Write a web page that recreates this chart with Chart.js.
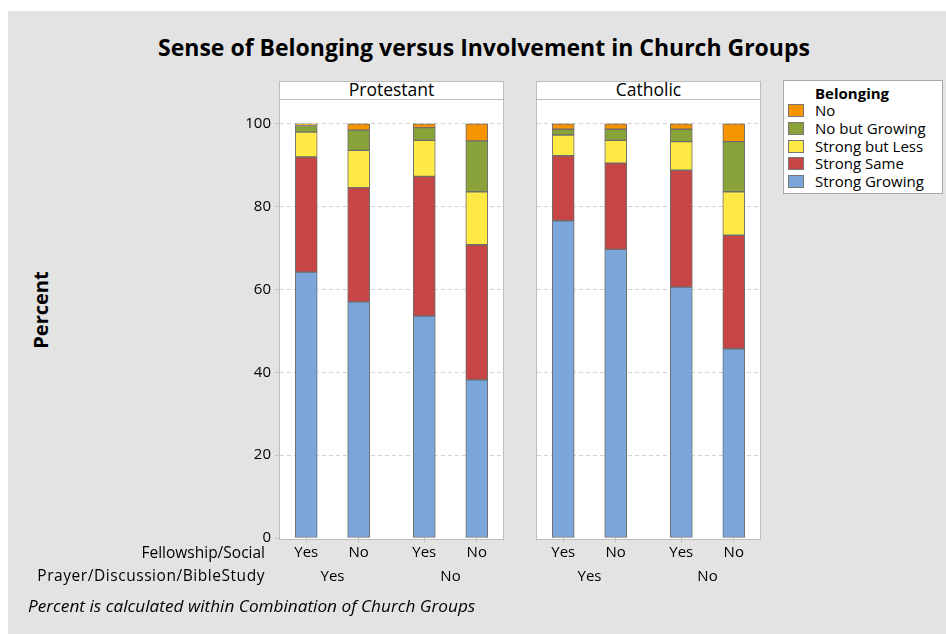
<!DOCTYPE html>
<html>
<head>
<meta charset="utf-8">
<script src="https://cdn.jsdelivr.net/npm/chart.js@4.4.1/dist/chart.umd.min.js"></script>
<style>
  body { margin: 0; background: #fff; font-family: 'Open Sans', sans-serif; color: #000; }
  #page { position: relative; width: 946px; height: 634px; overflow: hidden; }
  #bg { position: absolute; left: 8px; top: 11px; width: 938px; height: 623px; background: #e3e3e3; }
  .panel { position: absolute; top: 81px; height: 457px; background: #fff; border: 1px solid #bdbdbd; }
  .strip { position: absolute; left: 0; top: 0; right: 0; height: 17px; border-bottom: 1px solid #bdbdbd;
           text-align: center; font-size: 17.5px; line-height: 15px; }
  .cv { position: absolute; }
  #title { position: absolute; left: 0; width: 968px; top: 31px; text-align: center; font-size: 23px; font-weight: 700; }
  #ylab { position: absolute; left: 40px; top: 310px; transform: translate(-50%, -50%) rotate(-90deg); font-size: 20px; font-weight: 700; }
  .rowlab { position: absolute; right: 681px; font-size: 15.5px; white-space: nowrap; }
  #note { position: absolute; left: 28px; top: 594px; font-size: 17.2px; font-style: italic; }
  #legend { position: absolute; left: 783px; top: 80px; width: 158px; height: 112px; background: #fff; border: 1px solid #a8a8a8; font-size: 15px; }
  #legend .lt { position: absolute; left: 31px; top: 2px; font-weight: 700; }
  #legend .it { position: absolute; left: 31px; height: 18px; line-height: 18px; white-space: nowrap; }
  #legend .sw { position: absolute; left: -27px; top: 3px; width: 16px; height: 13px; border: 1px solid #777; box-sizing: border-box; }
</style>
</head>
<body>
<div id="page">
  <div id="bg"></div>
  <div id="title">Sense of Belonging versus Involvement in Church Groups</div>
  <div id="ylab">Percent</div>
  <div class="panel" style="left:279px;width:223px"><div class="strip">Protestant</div></div>
  <div class="panel" style="left:536px;width:223px"><div class="strip">Catholic</div></div>
  <div class="cv" style="left:220px;top:99px;width:283px;height:485px"><canvas id="cProt"></canvas></div>
  <div class="cv" style="left:537px;top:99px;width:223px;height:485px"><canvas id="cCath"></canvas></div>
  <div class="rowlab" style="top:541px">Fellowship/Social</div>
  <div class="rowlab" style="top:564px;letter-spacing:0.55px">Prayer/Discussion/BibleStudy</div>
  <div id="note">Percent is calculated within Combination of Church Groups</div>
  <div id="legend"></div>
</div>
<script>
// x positions of the 4 bars in each panel (Prayer Yes: Fellow Yes/No, Prayer No: Fellow Yes/No)
const barPos = [1, 2, 3.25, 4.25]
const fellowLabels = ['Yes', 'No', 'Yes', 'No']
const prayerPos = [1.5, 3.75]
const prayerLabels = ['Yes', 'No']
const yTicks = [0, 20, 40, 60, 80, 100]

const belonging = ['Strong Growing', 'Strong Same', 'Strong but Less', 'No but Growing', 'No']
const colors = ['#7ba6da', '#c64545', '#ffe945', '#89a33a', '#f59400']

// percent per bar, bottom to top
const protGrowing = [64.2, 57.0, 53.6, 38.2]
const protSame = [27.8, 27.6, 33.7, 32.6]
const protLess = [6.0, 9.0, 8.7, 12.8]
const protNoGrowing = [1.6, 4.9, 3.1, 12.3]
const protNo = [0.4, 1.5, 0.9, 4.1]

const cathGrowing = [76.6, 69.7, 60.6, 45.7]
const cathSame = [15.7, 20.8, 28.2, 27.4]
const cathLess = [5.0, 5.5, 6.9, 10.5]
const cathNoGrowing = [1.4, 2.7, 3.0, 12.1]
const cathNo = [1.3, 1.3, 1.3, 4.3]

Chart.defaults.font.family = "'Open Sans', sans-serif"
Chart.defaults.color = '#000'

function makeSets(series) {
  return series.map((vals, i) => ({
    label: belonging[i],
    data: vals.map((v, j) => ({ x: barPos[j], y: v })),
    backgroundColor: colors[i],
    borderColor: '#6e6e6e',
    borderWidth: 1,
    borderSkipped: false,
    barThickness: 22,
    xAxisID: 'x',
  }))
}

// no extra label padding, so the plot area fills the panel
const noPad = (s) => { s.paddingTop = 0; s.paddingBottom = 0; s.paddingLeft = 0; s.paddingRight = 0 }

function makeChart(id, series, showY) {
  new Chart(document.getElementById(id), {
    type: 'bar',
    data: { datasets: makeSets(series) },
    options: {
      responsive: true,
      maintainAspectRatio: false,
      animation: false,
      layout: { padding: 0 },
      plugins: { legend: { display: false }, tooltip: { enabled: false } },
      scales: {
        x: {
          type: 'linear', stacked: true, min: 0.5, max: 4.75, offset: false,
          afterBuildTicks: (s) => { s.ticks = barPos.map(v => ({ value: v })) },
          afterFit: (s) => { s.height = 22; noPad(s) },
          ticks: { callback: (v, i) => fellowLabels[i], font: { size: 15 }, padding: 1, maxRotation: 0, autoSkip: false },
          grid: { drawOnChartArea: false, drawTicks: true, tickLength: 5, color: '#c4c4c4', offset: false },
          border: { display: false },
        },
        x2: {
          type: 'linear', position: 'bottom', min: 0.5, max: 4.75, offset: false,
          afterBuildTicks: (s) => { s.ticks = prayerPos.map(v => ({ value: v })) },
          afterFit: (s) => { s.height = 24; noPad(s) },
          ticks: { callback: (v, i) => prayerLabels[i], font: { size: 15 }, padding: 0, maxRotation: 0, autoSkip: false },
          grid: { display: false },
          border: { display: false },
        },
        y: {
          stacked: true, min: 0, max: 106,
          afterBuildTicks: (s) => { s.ticks = yTicks.map(v => ({ value: v })) },
          afterFit: (s) => { s.width = showY ? 60 : 0; noPad(s) },
          ticks: { display: showY, font: { size: 15 }, padding: 4 },
          grid: {
            color: (c) => c.tick && c.tick.value === 0 ? 'rgba(0,0,0,0)' : '#d2d2d2',
            drawTicks: showY, tickLength: 5, tickColor: '#c4c4c4', tickBorderDash: [],
          },
          border: { display: false, dash: [4, 3] },
        },
      },
    },
  })
}

makeChart('cProt', [protGrowing, protSame, protLess, protNoGrowing, protNo], true)
makeChart('cCath', [cathGrowing, cathSame, cathLess, cathNoGrowing, cathNo], false)

// legend, top entry is the last series
const legend = document.getElementById('legend')
legend.innerHTML = '<div class="lt">Belonging</div>'
for (let i = belonging.length - 1, k = 0; i >= 0; i--, k++) {
  const it = document.createElement('div')
  it.className = 'it'
  it.style.top = (20 + k * 17.8) + 'px'
  it.innerHTML = '<div class="sw" style="background:' + colors[i] + '"></div>' + belonging[i]
  legend.appendChild(it)
}
</script>
</body>
</html>
